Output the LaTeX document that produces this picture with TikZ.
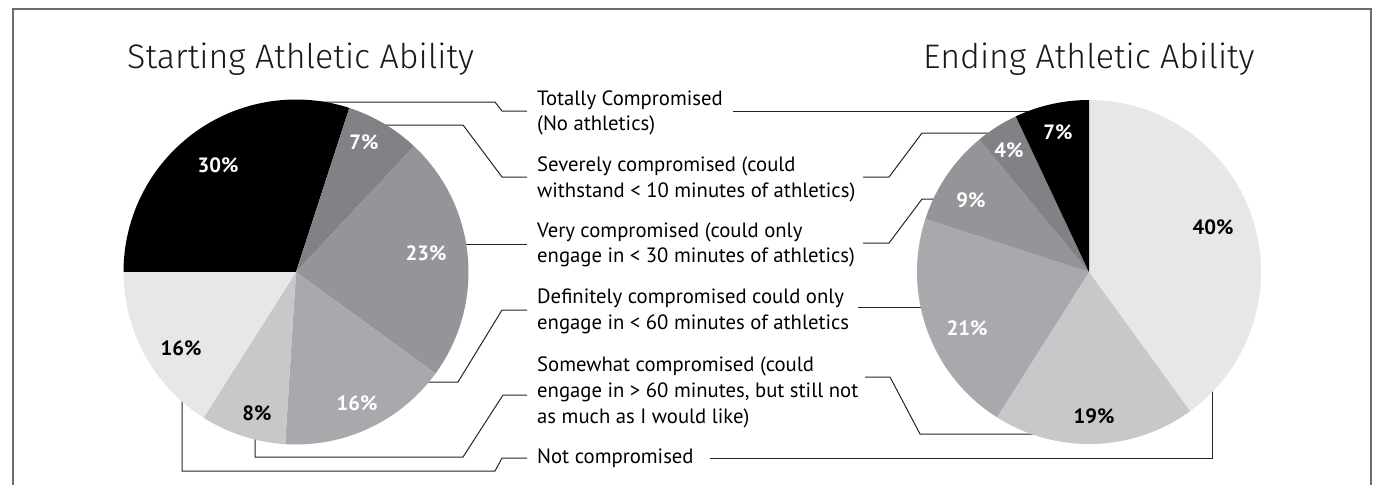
\documentclass[tikz,border=0pt]{standalone}
\usepackage{fontspec}
\setmainfont{PT Sans}
\newfontfamily\titlefont{Fira Sans Light}
\definecolor{cTot}{HTML}{000000}
\definecolor{cSev}{HTML}{808285}
\definecolor{cVery}{HTML}{939598}
\definecolor{cDef}{HTML}{A7A9AC}
\definecolor{cSome}{HTML}{C7C8CA}
\definecolor{cNot}{HTML}{E6E7E8}
\definecolor{frameC}{HTML}{6D6E71}
\begin{document}
\begin{tikzpicture}[x=1pt,y=-1pt,
  legend/.style={anchor=base west, inner sep=0pt, font=\fontsize{20.7}{24}\selectfont},
  pct/.style={inner sep=0pt, font=\fontsize{20.7}{24}\selectfont\bfseries},
  leader/.style={draw=black!85, line width=1pt},
  ttl/.style={anchor=base west, inner sep=0pt, font=\titlefont\fontsize{34}{40}\selectfont, text=black!90}]
\useasboundingbox (0,0) rectangle (1383,485);
\fill[white] (0,0) rectangle (1383,485);
\draw[frameC, line width=1.5pt] (13,485) -- (13,9) -- (1371,9) -- (1371,485);

% titles
\node[ttl] (t1) at (127,68) {Starting Athletic Ability};
\node[ttl] (t2) at (923,68) {Ending Athletic Ability};

% legend
\node[legend] (lTot1) at (537,105) {Totally Compromised};
\node[legend] (lTot2) at (537,130) {(No athletics)};
\node[legend] (lSev1) at (537,171) {Severely compromised (could};
\node[legend] (lSev2) at (537,197) {withstand < 10 minutes of athletics)};
\node[legend] (lVery1) at (537,237) {Very compromised (could only};
\node[legend] (lVery2) at (537,262) {engage in < 30 minutes of athletics)};
\node[legend] (lDef1) at (537,303) {Definitely compromised could only};
\node[legend] (lDef2) at (537,329) {engage in < 60 minutes of athletics};
\node[legend] (lSome1) at (537,371) {Somewhat compromised (could};
\node[legend] (lSome2) at (537,397) {engage in > 60 minutes, but still not};
\node[legend] (lSome3) at (537,423) {as much as I would like)};
\node[legend] (lNot1) at (537,463) {Not compromised};

% connector end points
\coordinate (aTotL) at (527,111); \coordinate (sTotL) at (310,102);
\coordinate (aSevL) at (527,177); \coordinate (sSevL) at (380,125);
\coordinate (aVeryL) at (527,244); \coordinate (sVeryL) at (455,244);
\coordinate (aDefL) at (527,310); \coordinate (sDefL) at (420,382);
\coordinate (aSomeL) at (527,395); \coordinate (sSomeL) at (255,430);
\coordinate (aNotL) at (527,458); \coordinate (sNotL) at (182,390);
\coordinate (aTotR) at (733,111); \coordinate (sTotR) at (1040,111);
\coordinate (aSevR) at (863,177); \coordinate (sSevR) at (1000,133);
\coordinate (aVeryR) at (863,243); \coordinate (sVeryR) at (950,199);
\coordinate (aDefR) at (858,307); \coordinate (sDefR) at (935,307);
\coordinate (aSomeR) at (865,377); \coordinate (sSomeR) at (1040,434);
\coordinate (aNotR) at (710,458); \coordinate (sNotR) at (1212,380);

% leaders (behind pies)
\draw[leader] (sTotL) -- (495,102) -- (502,111) -- (aTotL);
\draw[leader] (sSevL) -- (463,125) -- (502,177) -- (aSevL);
\draw[leader] (sVeryL) -- (aVeryL);
\draw[leader] (aDefL) -- (502,310) -- (458,382) -- (sDefL);
\draw[leader] (aSomeL) -- (503,395) -- (463,457) -- (255,457) -- (sSomeL);
\draw[leader] (aNotL) -- (502,458) -- (495,471) -- (182,471) -- (sNotL);
\draw[leader] (aTotR) -- (sTotR);
\draw[leader] (aSevR) -- (889,177) -- (922,133) -- (sSevR);
\draw[leader] (aVeryR) -- (889,243) -- (922,199) -- (sVeryR);
\draw[leader] (aDefR) -- (sDefR);
\draw[leader] (aSomeR) -- (890,377) -- (920,434) -- (sSomeR);
\draw[leader] (aNotR) -- (1212,458) -- (sNotR);

% left pie
\begin{scope}[shift={(296,272)}, yscale=-1]
\def\r{172.5}
\fill[cTot] (0,0) -- (180:\r) arc[start angle=180, end angle=72, radius=\r] -- cycle;
\fill[cSev] (0,0) -- (72:\r) arc[start angle=72, end angle=46.8, radius=\r] -- cycle;
\fill[cVery] (0,0) -- (46.8:\r) arc[start angle=46.8, end angle=-36, radius=\r] -- cycle;
\fill[cDef] (0,0) -- (-36:\r) arc[start angle=-36, end angle=-93.6, radius=\r] -- cycle;
\fill[cSome] (0,0) -- (-93.6:\r) arc[start angle=-93.6, end angle=-122.4, radius=\r] -- cycle;
\fill[cNot] (0,0) -- (-122.4:\r) arc[start angle=-122.4, end angle=-180, radius=\r] -- cycle;
\end{scope}

% right pie
\begin{scope}[shift={(1089,272)}, yscale=-1]
\def\r{172}
\fill[cNot] (0,0) -- (90:\r) arc[start angle=90, end angle=-54, radius=\r] -- cycle;
\fill[cSome] (0,0) -- (-54:\r) arc[start angle=-54, end angle=-122.4, radius=\r] -- cycle;
\fill[cDef] (0,0) -- (-122.4:\r) arc[start angle=-122.4, end angle=-198, radius=\r] -- cycle;
\fill[cVery] (0,0) -- (162:\r) arc[start angle=162, end angle=129.6, radius=\r] -- cycle;
\fill[cSev] (0,0) -- (129.6:\r) arc[start angle=129.6, end angle=115.2, radius=\r] -- cycle;
\fill[cTot] (0,0) -- (115.2:\r) arc[start angle=115.2, end angle=90, radius=\r] -- cycle;
\end{scope}

% percentages left
\node[pct, text=white] (pL1) at (218,165) {30\%};
\node[pct, text=white] (pL2) at (364,142) {7\%};
\node[pct, text=white] (pL3) at (426,253) {23\%};
\node[pct, text=white] (pL4) at (357,403) {16\%};
\node[pct, text=black] (pL5) at (257,413) {8\%};
\node[pct, text=black] (pL6) at (181,348) {16\%};
% percentages right
\node[pct, text=black] (pR1) at (1213,227) {40\%};
\node[pct, text=black] (pR2) at (1094,416) {19\%};
\node[pct, text=white] (pR3) at (967,328) {21\%};
\node[pct, text=white] (pR4) at (971,200) {9\%};
\node[pct, text=white] (pR5) at (1009,150) {4\%};
\node[pct, text=white] (pR6) at (1058,132) {7\%};
\end{tikzpicture}
\end{document}
